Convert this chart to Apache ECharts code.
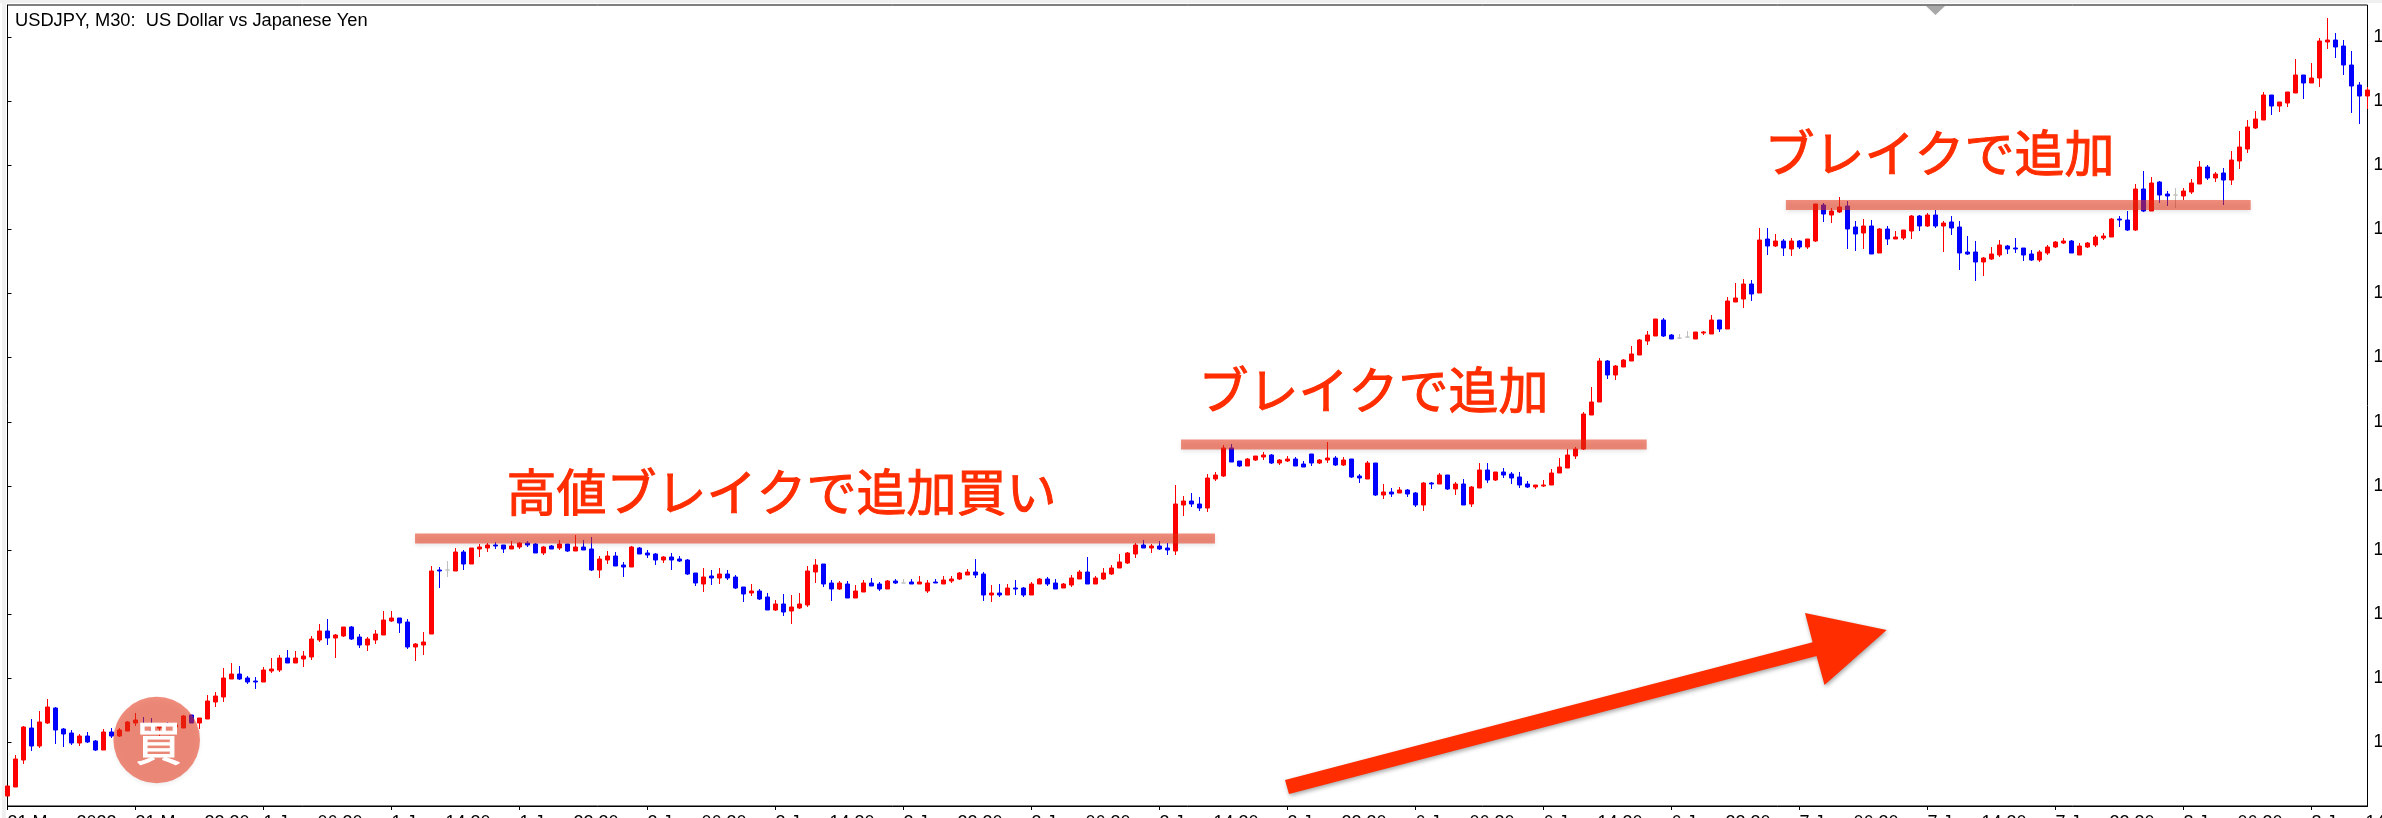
<!DOCTYPE html>
<html>
<head>
<meta charset="utf-8">
<title>USDJPY M30</title>
<style>
  html, body { margin: 0; padding: 0; background: #fff; overflow: hidden; }
  #chart { width: 2382px; height: 818px; }
</style>
<script src="https://cdn.jsdelivr.net/npm/echarts@6/dist/echarts.min.js"></script>
</head>
<body>
<div id="chart"></div>
<script>
// 30 minute bars, one row per 16 bars (= one x axis tick)
var opens = [
  127.04,127.13,127.40,127.72,127.54,127.77,127.92,127.71,127.67,127.57,127.64,127.59,127.50,127.68,127.64,127.69,
  127.77,127.76,127.69,127.72,127.76,127.73,127.72,127.85,127.77,127.81,127.98,128.03,128.21,128.26,128.22,128.19,
  128.18,128.29,128.30,128.42,128.37,128.41,128.43,128.60,128.69,128.62,128.64,128.73,128.63,128.55,128.60,128.65,
  128.79,128.82,128.78,128.53,128.55,128.66,129.30,129.30,129.29,129.48,129.36,129.51,129.52,129.55,129.55,129.51,
  129.53,129.57,129.56,129.47,129.54,129.52,129.56,129.49,129.53,129.51,129.30,129.40,129.44,129.35,129.33,129.52,
  129.47,129.46,129.40,129.43,129.41,129.40,129.27,129.16,129.24,129.22,129.26,129.23,129.13,129.07,129.09,129.03,
  128.90,128.96,128.89,128.92,128.95,129.28,129.36,129.17,129.11,129.16,129.02,129.08,129.17,129.16,129.11,129.19,
  129.17,129.18,129.16,129.09,129.18,129.16,129.19,129.21,129.25,129.28,129.26,129.05,129.07,129.05,129.12,129.12,
  129.05,129.16,129.21,129.17,129.12,129.15,129.21,129.28,129.16,129.21,129.26,129.32,129.37,129.46,129.55,129.52,
  129.54,129.52,129.49,129.95,129.99,129.96,129.92,130.21,130.24,130.52,130.39,130.34,130.40,130.43,130.45,130.37,
  130.39,130.41,130.36,130.46,130.37,130.40,130.42,130.35,130.41,130.24,130.21,130.37,130.05,130.08,130.07,130.10,
  130.07,129.95,130.17,130.16,130.25,130.11,130.16,129.96,130.12,130.30,130.20,130.28,130.26,130.23,130.16,130.13,
  130.14,130.15,130.27,130.32,130.44,130.51,130.85,130.98,131.39,131.25,131.33,131.39,131.45,131.59,131.64,131.80,
  131.65,131.62,131.63,131.61,131.67,131.66,131.80,131.71,131.98,132.01,132.16,132.07,132.61,132.54,132.59,132.51,
  132.59,132.53,132.59,132.95,132.85,132.88,132.94,132.73,132.67,132.74,132.47,132.71,132.61,132.62,132.69,132.84,
  132.74,132.85,132.74,132.78,132.73,132.48,132.48,132.38,132.41,132.45,132.54,132.52,132.52,132.46,132.40,132.47,
  132.53,132.57,132.59,132.45,132.53,132.55,132.62,132.63,132.81,132.80,132.70,133.11,132.89,133.18,133.06,133.05,
  133.04,133.08,133.16,133.33,133.22,133.27,133.20,133.39,133.51,133.72,133.80,134.05,133.94,133.97,134.07,134.25,
  134.17,134.22,134.58,134.60,134.54,134.35,134.15,134.04
];
var closes = [
  127.14,127.41,127.73,127.54,127.78,127.93,127.70,127.66,127.57,127.64,127.58,127.50,127.68,127.64,127.70,127.78,
  127.80,127.75,127.67,127.76,127.75,127.75,127.84,127.77,127.82,127.99,128.04,128.22,128.26,128.21,128.18,128.18,
  128.30,128.31,128.42,128.37,128.42,128.44,128.61,128.69,128.62,128.65,128.73,128.61,128.55,128.61,128.66,128.80,
  128.82,128.77,128.53,128.56,128.58,129.29,129.29,129.30,129.48,129.36,129.52,129.53,129.55,129.54,129.51,129.54,
  129.57,129.55,129.47,129.53,129.51,129.56,129.49,129.53,129.50,129.30,129.41,129.44,129.34,129.33,129.53,129.46,
  129.45,129.40,129.43,129.40,129.39,129.26,129.17,129.23,129.22,129.26,129.22,129.12,129.06,129.09,129.01,128.90,
  128.96,128.88,128.93,128.96,129.29,129.35,129.16,129.11,129.17,129.02,129.09,129.17,129.14,129.11,129.19,129.17,
  129.17,129.16,129.18,129.17,129.17,129.20,129.21,129.27,129.28,129.25,129.05,129.07,129.05,129.12,129.11,129.05,
  129.16,129.21,129.16,129.11,129.16,129.22,129.28,129.16,129.22,129.27,129.32,129.38,129.47,129.55,129.52,129.54,
  129.51,129.50,129.96,129.99,129.96,129.92,130.22,130.25,130.52,130.38,130.34,130.41,130.44,130.45,130.37,130.40,
  130.41,130.34,130.33,130.37,130.40,130.42,130.35,130.40,130.23,130.22,130.37,130.05,130.08,130.06,130.10,130.06,
  129.95,130.17,130.16,130.25,130.11,130.16,129.95,130.13,130.30,130.20,130.28,130.25,130.22,130.15,130.13,130.15,
  130.15,130.27,130.33,130.45,130.51,130.86,130.98,131.39,131.25,131.34,131.40,131.46,131.60,131.65,131.81,131.64,
  131.61,131.62,131.63,131.68,131.68,131.80,131.71,131.99,132.02,132.16,132.06,132.60,132.54,132.59,132.52,132.59,
  132.53,132.61,132.96,132.86,132.89,132.93,132.71,132.66,132.74,132.46,132.71,132.61,132.63,132.70,132.84,132.74,
  132.85,132.74,132.77,132.72,132.47,132.46,132.38,132.42,132.46,132.55,132.51,132.51,132.45,132.40,132.48,132.53,
  132.58,132.59,132.47,132.54,132.57,132.63,132.64,132.81,132.80,132.70,133.11,132.89,133.17,133.05,133.04,133.05,
  133.09,133.17,133.33,133.22,133.26,133.20,133.40,133.53,133.73,133.81,134.05,133.94,133.98,134.08,134.25,134.17,
  134.22,134.59,134.60,134.53,134.35,134.14,134.04,134.10
];
var lows = [
  127.04,127.13,127.36,127.49,127.52,127.76,127.56,127.53,127.55,127.54,127.57,127.49,127.50,127.62,127.63,127.69,
  127.74,127.74,127.67,127.62,127.74,127.72,127.72,127.77,127.71,127.81,127.93,127.98,128.21,128.20,128.16,128.11,
  128.18,128.27,128.28,128.37,128.37,128.33,128.40,128.58,128.55,128.42,128.63,128.60,128.52,128.49,128.56,128.65,
  128.78,128.67,128.51,128.39,128.45,128.66,129.12,129.23,129.29,129.30,129.36,129.43,129.48,129.51,129.47,129.51,
  129.51,129.53,129.47,129.45,129.51,129.50,129.48,129.49,129.50,129.29,129.22,129.36,129.34,129.23,129.33,129.46,
  129.42,129.35,129.37,129.30,129.38,129.25,129.14,129.08,129.15,129.16,129.20,129.11,128.98,129.04,129.00,128.90,
  128.89,128.84,128.76,128.91,128.93,129.17,129.13,128.99,129.10,129.02,129.02,129.08,129.14,129.09,129.11,129.16,
  129.17,129.16,129.16,129.07,129.17,129.16,129.17,129.20,129.25,129.22,128.99,128.98,129.03,129.05,129.05,129.03,
  129.05,129.16,129.14,129.11,129.12,129.13,129.21,129.16,129.16,129.20,129.25,129.32,129.36,129.42,129.52,129.47,
  129.50,129.45,129.45,129.84,129.93,129.89,129.88,130.19,130.23,130.38,130.33,130.34,130.39,130.40,130.36,130.35,
  130.38,130.34,130.33,130.34,130.36,130.37,130.34,130.34,130.22,130.17,130.21,130.04,130.01,130.03,130.07,130.03,
  129.93,129.89,130.11,130.16,130.10,130.05,129.95,129.93,130.12,130.17,130.19,130.22,130.16,130.12,130.12,130.11,
  130.13,130.15,130.27,130.32,130.41,130.50,130.85,130.98,131.21,131.20,131.33,131.39,131.45,131.55,131.64,131.63,
  131.61,131.61,131.62,131.61,131.65,131.66,131.68,131.71,131.98,131.92,131.99,132.07,132.45,132.53,132.44,132.44,
  132.51,132.51,132.58,132.78,132.77,132.87,132.51,132.49,132.51,132.46,132.47,132.55,132.61,132.60,132.61,132.69,
  132.73,132.72,132.48,132.65,132.30,132.45,132.19,132.24,132.40,132.43,132.46,132.47,132.39,132.39,132.38,132.45,
  132.52,132.56,132.47,132.45,132.52,132.53,132.60,132.63,132.73,132.69,132.69,132.88,132.89,132.97,132.94,132.92,
  133.00,133.06,133.16,133.20,133.18,132.95,133.15,133.31,133.47,133.71,133.80,133.85,133.88,133.93,134.07,134.01,
  134.17,134.13,134.51,134.42,134.25,133.87,133.76,133.91
];
var highs = [
  127.14,127.45,127.74,127.81,127.89,128.01,127.93,127.72,127.70,127.66,127.68,127.60,127.71,127.72,127.72,127.79,
  127.87,127.83,127.82,127.77,127.78,127.76,127.85,127.85,127.82,128.05,128.08,128.32,128.37,128.34,128.24,128.23,
  128.33,128.42,128.45,128.50,128.49,128.49,128.64,128.76,128.81,128.66,128.73,128.74,128.66,128.63,128.70,128.89,
  128.89,128.82,128.81,128.57,128.68,129.34,129.33,129.39,129.52,129.50,129.52,129.56,129.57,129.58,129.55,129.59,
  129.58,129.59,129.57,129.54,129.55,129.60,129.56,129.65,129.60,129.63,129.44,129.49,129.48,129.38,129.54,129.53,
  129.50,129.47,129.44,129.47,129.44,129.41,129.27,129.32,129.30,129.32,129.30,129.25,129.13,129.16,129.11,129.07,
  129.00,129.06,129.05,129.07,129.34,129.41,129.36,129.20,129.19,129.19,129.15,129.20,129.22,129.18,129.20,129.21,
  129.21,129.21,129.24,129.20,129.21,129.24,129.24,129.28,129.31,129.41,129.28,129.15,129.16,129.16,129.20,129.13,
  129.18,129.22,129.23,129.21,129.17,129.25,129.30,129.43,129.24,129.32,129.35,129.46,129.48,129.57,129.60,129.56,
  129.59,129.57,130.15,130.04,130.07,130.03,130.26,130.28,130.55,130.56,130.39,130.42,130.44,130.48,130.46,130.41,
  130.44,130.43,130.39,130.46,130.41,130.58,130.44,130.43,130.41,130.26,130.39,130.37,130.16,130.12,130.13,130.11,
  130.08,130.18,130.18,130.27,130.25,130.18,130.21,130.14,130.37,130.37,130.28,130.32,130.28,130.28,130.19,130.15,
  130.20,130.31,130.42,130.51,130.53,130.88,131.13,131.42,131.40,131.35,131.41,131.54,131.61,131.69,131.81,131.82,
  131.66,131.66,131.69,131.68,131.69,131.85,131.80,132.03,132.17,132.21,132.20,132.72,132.72,132.66,132.61,132.62,
  132.60,132.61,132.96,132.97,132.92,133.03,132.99,132.79,132.81,132.80,132.72,132.74,132.69,132.70,132.85,132.85,
  132.87,132.90,132.79,132.84,132.79,132.64,132.59,132.43,132.53,132.60,132.55,132.62,132.52,132.50,132.50,132.55,
  132.59,132.62,132.60,132.57,132.58,132.65,132.67,132.82,132.84,132.89,133.16,133.29,133.23,133.19,133.09,133.12,
  133.12,133.21,133.39,133.35,133.28,133.32,133.49,133.69,133.80,133.89,134.08,134.05,133.98,134.08,134.41,134.25,
  134.37,134.62,134.82,134.67,134.60,134.49,134.18,134.13
];
var timeLabels = [
  "31 May  2022", "31 May  22:30", "1 Jun  06:30", "1 Jun  14:30", "1 Jun  22:30",
  "2 Jun  06:30", "2 Jun  14:30", "2 Jun  22:30", "3 Jun  06:30", "3 Jun  14:30",
  "3 Jun  22:30", "6 Jun  06:30", "6 Jun  14:30", "6 Jun  22:30", "7 Jun  06:30",
  "7 Jun  14:30", "7 Jun  22:30", "8 Jun  06:30", "8 Jun  14:30"
];
var priceTicks = [134.63, 133.99, 133.35, 132.71, 132.07, 131.43, 130.78, 130.14, 129.50, 128.86, 128.22, 127.58];

// hand drawn levels on the chart: first bar, last bar, price
var breakoutFrom = [50.94, 146.69, 222.3];
var breakoutTo = [150.94, 204.9, 280.4];
var breakoutPrice = [129.615, 130.555, 132.95];

var RED = "#ff0000";
var BLUE = "#0000ff";
var MARKUP = "#ff2d00";
var OVERLAY = "rgba(230, 50, 20, 0.55)";
var JP_FONT = '"Noto Sans CJK JP", sans-serif';
var UI_FONT = '"Liberation Sans", sans-serif';

var categories = opens.map(function (o, i) {
  return i % 16 === 0 ? timeLabels[i / 16] : "";
});
var candles = opens.map(function (o, i) {
  return [o, closes[i], lows[i], highs[i]];
});
var levelSeries = breakoutFrom.map(function (from, i) {
  return {
    type: "line",
    xAxisIndex: 1,
    yAxisIndex: 0,
    data: [[from, breakoutPrice[i]], [breakoutTo[i], breakoutPrice[i]]],
    symbol: "none",
    silent: true,
    z: 5,
    lineStyle: {
      width: 10,
      cap: "butt",
      color: OVERLAY,
      shadowColor: "rgba(0, 0, 0, 0.18)",
      shadowBlur: 4,
      shadowOffsetY: 2
    }
  };
});

function markupText(text, x, y) {
  return {
    type: "text",
    left: x,
    top: y,
    z: 20,
    style: {
      text: text,
      fill: MARKUP,
      stroke: MARKUP,
      lineWidth: 1,
      font: '400 50px ' + JP_FONT
    }
  };
}

var chart = echarts.init(document.getElementById("chart"));
chart.setOption({
  animation: false,
  backgroundColor: "#fff",
  title: {
    text: "USDJPY, M30:  US Dollar vs Japanese Yen",
    left: 15,
    top: 12,
    padding: 0,
    textStyle: { fontFamily: UI_FONT, fontSize: 18.3, fontWeight: "normal", color: "#000" }
  },
  grid: {
    left: 7.5,
    top: 5,
    width: 2360,
    height: 801,
    outerBoundsMode: "none",
    show: true,
    borderColor: "#000",
    borderWidth: 1,
    backgroundColor: "#fff"
  },
  xAxis: [
    {
      type: "category",
      data: categories,
      boundaryGap: false,
      axisLine: { lineStyle: { color: "#000", width: 1 } },
      axisTick: { interval: 15, length: 4, lineStyle: { color: "#000" } },
      axisLabel: {
        interval: 15,
        align: "left",
        margin: 8,
        color: "#000",
        fontFamily: UI_FONT,
        fontSize: 18,
        hideOverlap: false
      },
      splitLine: { show: false }
    },
    { type: "value", min: 0, max: 295, show: false }
  ],
  yAxis: {
    type: "value",
    position: "right",
    min: 126.94,
    max: 134.95,
    scale: true,
    axisLine: { show: true, lineStyle: { color: "#000", width: 1 } },
    axisTick: { show: true, length: 4, customValues: priceTicks, lineStyle: { color: "#000" } },
    axisLabel: {
      customValues: priceTicks,
      margin: 6,
      align: "left",
      color: "#000",
      fontFamily: UI_FONT,
      fontSize: 18,
      formatter: function (v) { return v.toFixed(2); }
    },
    splitLine: { show: false }
  },
  series: [{
    type: "candlestick",
    name: "USDJPY",
    xAxisIndex: 0,
    yAxisIndex: 0,
    data: candles,
    barWidth: 4,
    itemStyle: {
      color: RED,
      color0: BLUE,
      borderColor: RED,
      borderColor0: BLUE,
      borderColorDoji: "#c0c0c0",
      borderWidth: 1
    }
  }].concat(levelSeries),
  graphic: [
    // window chrome around the terminal chart
    { type: "rect", z: -1, shape: { x: 0, y: 0, width: 2382, height: 3 }, style: { fill: "#f0f0f0" } },
    { type: "rect", z: -1, shape: { x: 2, y: 0, width: 4, height: 818 }, style: { fill: "#f0f0f0" } },
    { type: "polygon", z: 15, shape: { points: [[1926, 6], [1945, 6], [1935.5, 15]] }, style: { fill: "#a8a8a8" } },

    markupText("高値ブレイクで追加買い", 506, 467),
    markupText("ブレイクで追加", 1198, 365),
    markupText("ブレイクで追加", 1764, 128),

    // big arrow
    {
      type: "polygon",
      z: 18,
      shape: {
        points: [[1285, 780], [1812.6, 642.3], [1805, 613], [1886.7, 630], [1824.5, 685], [1816.5, 656], [1289, 794]]
      },
      style: { fill: MARKUP, shadowColor: "rgba(0, 0, 0, 0.35)", shadowBlur: 4, shadowOffsetX: 1, shadowOffsetY: 2 }
    },

    // buy marker
    {
      type: "circle",
      z: 18,
      shape: { cx: 156.7, cy: 740, r: 43.3 },
      style: { fill: OVERLAY, shadowColor: "rgba(0, 0, 0, 0.12)", shadowBlur: 4, shadowOffsetY: 2 }
    },
    {
      type: "text",
      left: 135,
      top: 719,
      z: 19,
      style: { text: "買", fill: "#fff", stroke: "#fff", lineWidth: 1, font: '400 46px ' + JP_FONT }
    }
  ]
});
</script>
</body>
</html>
